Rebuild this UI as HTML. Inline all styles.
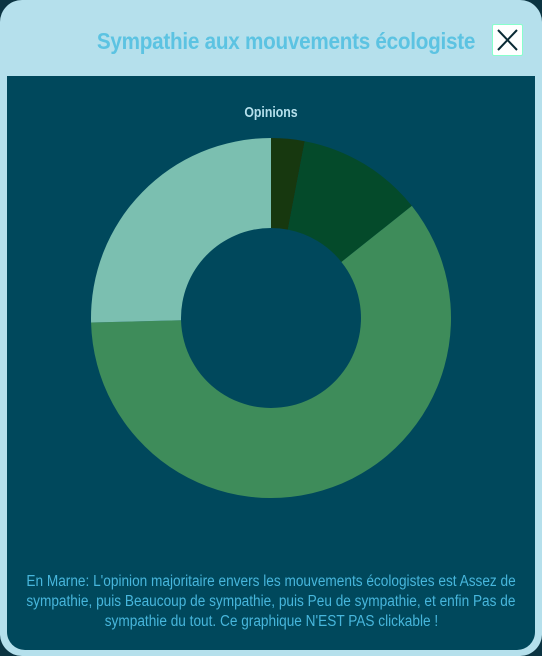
<!DOCTYPE html>
<html><head><meta charset="utf-8"><style>
body{margin:0;width:542px;height:656px;background:#0b3442;overflow:hidden;font-family:"Liberation Sans",sans-serif}
#frame{position:absolute;left:0;top:0;width:542px;height:656px;background:#b5e0ec;border-radius:22px}
#title{position:absolute;left:61px;width:450px;top:28px;text-align:center;color:#5cc3e2;font-weight:bold;font-size:23px;transform:scaleX(0.9);transform-origin:center;letter-spacing:-0.3px}
#close{position:absolute;left:492px;top:24px;width:29px;height:30px;background:#fff;border:1px solid #8fc;border-radius:2px}
#panel{position:absolute;left:7px;top:76px;width:528px;height:574px;background:#00485c;border-radius:0 0 18px 18px}
#desc{position:absolute;left:-100px;width:728px;top:496px;text-align:center;color:#47b6dc;font-size:15.5px;line-height:20px}
#desc span{display:inline-block;transform:scaleX(0.88);transform-origin:center;white-space:nowrap}
</style></head><body>
<div id="frame"></div>
<div id="title">Sympathie aux mouvements écologiste</div>
<div id="close"><svg width="29" height="30"><path d="M5 5L24 25M24 5L5 25" stroke="#0a2a35" stroke-width="2"/></svg></div>
<div id="panel">
<svg id="chart" width="528" height="480" style="position:absolute;left:0;top:0">
<text x="264" y="41" text-anchor="middle" fill="#b5e0ec" font-size="15" font-weight="bold" font-family="Liberation Sans" transform="translate(264 0) scale(0.82 1) translate(-264 0)">Opinions</text>
</svg>
<div id="desc"><span>En Marne: L'opinion majoritaire envers les mouvements écologistes est Assez de</span><br><span>sympathie, puis Beaucoup de sympathie, puis Peu de sympathie, et enfin Pas de</span><br><span>sympathie du tout. Ce graphique N'EST PAS clickable !</span></div>
</div>
<script>
const categories=["Pas de sympathie du tout","Peu de sympathie","Assez de sympathie","Beaucoup de sympathie"];
const values=[3,11.3,60.3,25.4];
const colors=["#17380f","#044a2a","#3e8c5a","#7bbfb0"];
const svg=document.getElementById('chart');
const cx=264,cy=242,R=180,r=90;
const total=values.reduce((a,b)=>a+b,0);
let a0=0;
function pt(rad,a){return [cx+rad*Math.sin(a),cy-rad*Math.cos(a)];}
values.forEach((v,i)=>{
 const a1=a0+v/total*2*Math.PI;
 const large=(a1-a0)>Math.PI?1:0;
 const [x0,y0]=pt(R,a0),[x1,y1]=pt(R,a1),[x2,y2]=pt(r,a1),[x3,y3]=pt(r,a0);
 const p=document.createElementNS('http://www.w3.org/2000/svg','path');
 p.setAttribute('d',`M${x0} ${y0}A${R} ${R} 0 ${large} 1 ${x1} ${y1}L${x2} ${y2}A${r} ${r} 0 ${large} 0 ${x3} ${y3}Z`);
 p.setAttribute('fill',colors[i]);
 
 
 svg.appendChild(p);
 a0=a1;
});
</script>
</body></html>
